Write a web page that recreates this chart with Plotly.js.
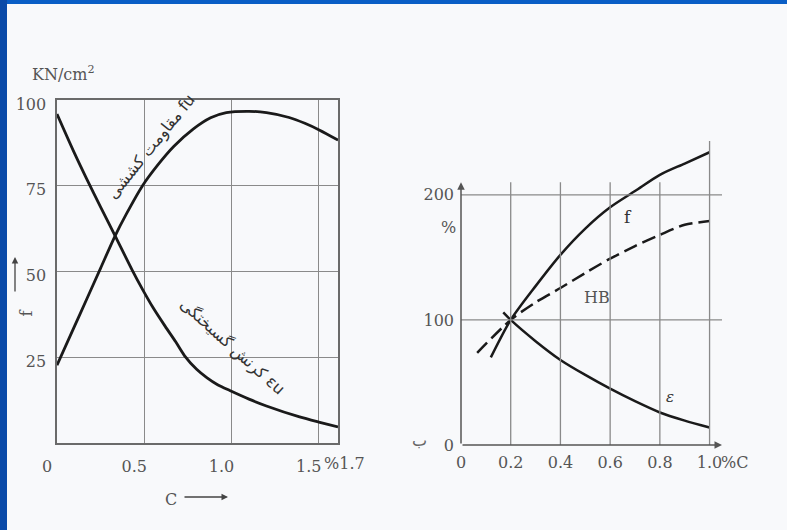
<!DOCTYPE html>
<html>
<head>
<meta charset="utf-8">
<script src="https://cdn.plot.ly/plotly-3.0.1.min.js"></script>
<style>html,body{margin:0;padding:0;background:#f8f9fb;}#chart{width:787px;height:530px;}</style>
</head>
<body>
<div id="chart"></div>
<script>
// ---- Left chart: tensile strength fu and fracture strain εu vs carbon content ----
const leftC      = [0, 0.1, 0.17, 0.25, 0.333, 0.4, 0.49, 0.58, 0.67, 0.78, 0.88, 0.97, 1.1, 1.2, 1.33, 1.42, 1.505, 1.61];
const leftFu     = [22.7, 34, 41.9, 51, 60.4, 67, 75, 81.2, 86.5, 91.5, 94.8, 96.3, 96.7, 96.3, 94.9, 93.2, 91.2, 88.3];
const leftEpsC   = [0, 0.1, 0.17, 0.25, 0.333, 0.43, 0.49, 0.55, 0.62, 0.68, 0.73, 0.8, 0.86, 0.92, 0.99, 1.1, 1.2, 1.39, 1.5, 1.61];
const leftEps    = [95.9, 84.5, 77, 68.8, 60.4, 50.5, 44.8, 39.5, 34, 29.5, 25.5, 21.5, 19, 17, 15.3, 12.8, 10.8, 7.6, 6.1, 4.7];
const leftXTicks = [0, 0.5, 1.0, 1.5];
const leftXText  = ["0", "0.5", "1.0", "1.5"];
const leftYTicks = [25, 50, 75, 100];
const leftYText  = ["25", "50", "75", "100"];
const leftXMax   = 1.61;
const leftXMaxLabel = "%1.7";
const leftUnit   = "KN/cm<sup>2</sup>";
const fuLabel    = "مقاومت کششی fu";
const epsLabel   = "کرنش گسیختگی εu";

// ---- Right chart: f, HB, ε (%) vs carbon content ----
const fC   = [0.12, 0.2, 0.3, 0.4, 0.5, 0.6, 0.7, 0.8, 0.9, 1.0];
const fVal = [70, 100, 127, 152, 173, 190, 203, 216, 225, 234];
const hbC   = [0.065, 0.2, 0.3, 0.4, 0.5, 0.6, 0.7, 0.8, 0.9, 1.0];
const hbVal = [73.6, 100, 114, 125.5, 137.5, 149, 159, 168, 176, 179];
const eC   = [0.17, 0.2, 0.3, 0.4, 0.5, 0.6, 0.7, 0.8, 0.9, 1.0];
const eVal = [106, 100, 83, 68, 56, 45, 35, 26, 19.5, 14];
const rightXTicks = [0, 0.2, 0.4, 0.6, 0.8, 1.0];
const rightXText  = ["0", "0.2", "0.4", "0.6", "0.8", "1.0"];
const rightYTicks = [0, 100, 200];
const rightYText  = ["0", "100", "200"];
const rightXMax = 1.05, rightYMax = 243, rightYArrow = 210;

const W = 787, H = 530;
const px = x => x / W, py = y => 1 - y / H;
const ink = '#1a1a1a', grid = '#8a8a8a', txt = '#555555';
const serif = {family: 'DejaVu Serif', size: 16, color: txt};

const traces = [
  {x: leftC, y: leftFu, xaxis: 'x', yaxis: 'y', mode: 'lines', line: {color: ink, width: 2.8, shape: 'spline', smoothing: 0.7}, hoverinfo: 'skip'},
  {x: leftEpsC, y: leftEps, xaxis: 'x', yaxis: 'y', mode: 'lines', line: {color: ink, width: 2.8, shape: 'spline', smoothing: 0.7}, hoverinfo: 'skip'},
  {x: fC, y: fVal, xaxis: 'x2', yaxis: 'y2', mode: 'lines', line: {color: ink, width: 2.5, shape: 'spline', smoothing: 0.8}, hoverinfo: 'skip'},
  {x: hbC, y: hbVal, xaxis: 'x2', yaxis: 'y2', mode: 'lines', line: {color: ink, width: 2.5, shape: 'spline', smoothing: 0.8, dash: '14px,6px'}, hoverinfo: 'skip'},
  {x: eC, y: eVal, xaxis: 'x2', yaxis: 'y2', mode: 'lines', line: {color: ink, width: 2.5, shape: 'spline', smoothing: 0.8}, hoverinfo: 'skip'}
];

const shapes = [
  // slide frame
  {type: 'rect', xref: 'paper', yref: 'paper', x0: 0, x1: 1, y0: py(4), y1: 1, fillcolor: '#0a5ec6', line: {width: 0}, layer: 'below'},
  {type: 'rect', xref: 'paper', yref: 'paper', x0: 0, x1: px(7), y0: 0, y1: 1, fillcolor: '#0a4aa8', line: {width: 0}, layer: 'below'}
];
// right chart grid
rightYTicks.filter(v => v > 0).forEach(v => shapes.push({type: 'line', xref: 'x2', yref: 'y2', x0: 0, x1: rightXMax, y0: v, y1: v, line: {color: grid, width: 1.3}}));
rightXTicks.filter(v => v > 0).forEach(v => shapes.push({type: 'line', xref: 'x2', yref: 'y2', x0: v, x1: v, y0: 0, y1: v >= 1 ? rightYMax : rightYArrow, line: {color: grid, width: 1.3}}));

const persian = {family: 'DejaVu Sans', size: 16, color: '#333'};
const annotations = [
  {xref: 'paper', yref: 'paper', x: px(30), y: py(74), xanchor: 'left', yanchor: 'middle', text: leftUnit, showarrow: false, font: serif},
  {xref: 'x', yref: 'paper', x: leftXMax, y: py(463), xanchor: 'left', xshift: -16, yanchor: 'middle', text: leftXMaxLabel, showarrow: false, font: serif},
  {xref: 'paper', yref: 'paper', x: px(100), y: py(88), text: fuLabel, textangle: -51, showarrow: false, font: persian},
  {xref: 'paper', yref: 'paper', x: px(173), y: py(347), text: epsLabel, textangle: 42, showarrow: false, font: persian},
  {xref: 'paper', yref: 'paper', x: px(14), y: py(313), text: 'f', textangle: -90, showarrow: false, font: serif},
  {xref: 'paper', yref: 'paper', x: px(15), y: py(257), ax: 0, ay: 36, text: '', showarrow: true, arrowhead: 2, arrowsize: 1, arrowwidth: 1.3, arrowcolor: '#444'},
  {xref: 'paper', yref: 'paper', x: px(163), y: py(497), yanchor: 'middle', yshift: -2, text: 'C', showarrow: false, font: serif},
  {xref: 'paper', yref: 'paper', x: px(228), y: py(497), ax: -45, ay: 0, text: '', showarrow: true, arrowhead: 2, arrowsize: 1, arrowwidth: 1.3, arrowcolor: '#444'},
  // right chart axes with arrows
  {xref: 'x2', yref: 'y2', axref: 'x2', ayref: 'y2', x: rightXMax, y: 0, ax: 0, ay: 0, text: '', showarrow: true, arrowhead: 2, arrowsize: 1, arrowwidth: 1.5, arrowcolor: '#555', standoff: 0, startstandoff: 0},
  {xref: 'x2', yref: 'y2', axref: 'x2', ayref: 'y2', x: 0, y: rightYArrow, ax: 0, ay: 0, text: '', showarrow: true, arrowhead: 2, arrowsize: 1, arrowwidth: 1.5, arrowcolor: '#555', standoff: 0, startstandoff: 0},
  {xref: 'x2', yref: 'paper', x: 1.0, y: py(462), xanchor: 'left', xshift: 9, yanchor: 'middle', text: '%C', showarrow: false, font: serif},
  {xref: 'paper', yref: 'paper', x: px(448), y: py(227), text: '%', showarrow: false, font: serif},
  {xref: 'paper', yref: 'paper', x: px(634), y: py(217), text: 'f', showarrow: false, font: {family: 'DejaVu Serif', size: 17, color: '#333'}},
  {xref: 'paper', yref: 'paper', x: px(612), y: py(297), text: 'HB', showarrow: false, font: serif},
  {xref: 'paper', yref: 'paper', x: px(676), y: py(408), text: '<i>ε</i>', showarrow: false, font: {family: 'DejaVu Serif', size: 15, color: '#333'}},
  {xref: 'paper', yref: 'paper', x: px(419), y: py(452), text: 'ب', showarrow: false, font: {family: 'DejaVu Sans', size: 16, color: '#666'}}
];

const layout = {
  width: W, height: H,
  margin: {l: 0, r: 0, t: 0, b: 0},
  paper_bgcolor: '#f8f9fb', plot_bgcolor: 'rgba(0,0,0,0)',
  showlegend: false,
  xaxis: {domain: [px(57), px(338)], range: [0, leftXMax], anchor: 'y',
          tickmode: 'array', tickvals: leftXTicks, ticktext: leftXText, ticks: '', ticklabelshift: -10, ticklabelstandoff: 8,
          showgrid: true, gridcolor: grid, gridwidth: 1.3, zeroline: false,
          showline: true, mirror: true, linecolor: '#6a6a6a', linewidth: 1.6, tickfont: serif, fixedrange: true},
  yaxis: {domain: [py(443), py(100)], range: [0, 100], anchor: 'x',
          tickmode: 'array', tickvals: leftYTicks, ticktext: leftYText, ticks: '', ticklabelshift: 4, ticklabelstandoff: 6,
          showgrid: true, gridcolor: grid, gridwidth: 1.3, zeroline: false,
          showline: true, mirror: true, linecolor: '#6a6a6a', linewidth: 1.6, tickfont: serif, fixedrange: true},
  xaxis2: {domain: [px(461), px(722)], range: [0, rightXMax], anchor: 'y2',
           tickmode: 'array', tickvals: rightXTicks, ticktext: rightXText, ticks: '', ticklabelstandoff: 6,
           showgrid: false, zeroline: false, showline: false, tickfont: serif, fixedrange: true},
  yaxis2: {domain: [py(445), py(141)], range: [0, rightYMax], anchor: 'x2',
           tickmode: 'array', tickvals: rightYTicks, ticktext: rightYText, ticks: '', ticklabelstandoff: 6,
           showgrid: false, zeroline: false, showline: false, tickfont: serif, fixedrange: true},
  shapes: shapes,
  annotations: annotations
};

Plotly.newPlot('chart', traces, layout, {staticPlot: true, displayModeBar: false});
</script>
</body>
</html>
